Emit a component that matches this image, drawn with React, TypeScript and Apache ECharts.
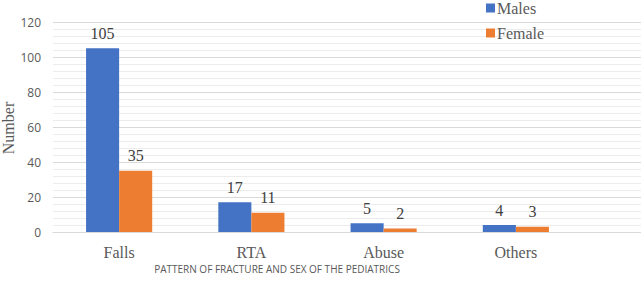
import React, { useEffect, useRef } from "react";
import * as echarts from "echarts";

// Fracture patterns by sex
const categories = ["Falls", "RTA", "Abuse", "Others"];
const males = [105, 17, 5, 4];
const female = [35, 11, 2, 3];
const yTicks = { min: 0, max: 120, interval: 20 };

const SERIF = "'Liberation Serif', 'Times New Roman', serif";
const SANS = "'Open Sans', 'Noto Sans', sans-serif";
const TEXT_GRAY = "#595959";

export default function App() {
  const ref = useRef<HTMLDivElement>(null);

  useEffect(() => {
    if (!ref.current) return;
    const chart = echarts.init(ref.current, null, { renderer: "svg" });
    const labelStyle = {
      show: true,
      position: "top" as const,
      distance: 7,
      fontFamily: SERIF,
      fontSize: 16,
      color: "#404040",
    };
    chart.setOption({
      animation: false,
      backgroundColor: "#ffffff",
      legend: {
        orient: "vertical",
        left: 486,
        top: 0,
        padding: [0, 0, 0, 0],
        itemWidth: 9,
        itemHeight: 9,
        itemGap: 9,
        icon: "rect",
        textStyle: { fontFamily: SERIF, fontSize: 16, color: TEXT_GRAY, padding: [0, 0, 0, -3] },
        data: ["Males", "Female"],
      },
      grid: [
        { left: 53, right: 59, top: 22, bottom: 49 },
        { left: 53, right: 0, top: 22, bottom: 49 },
      ],
      xAxis: [
        {
          type: "category",
          gridIndex: 0,
          data: categories,
          axisLine: { lineStyle: { color: "#d9d9d9" } },
          axisTick: { show: false },
          axisLabel: { fontFamily: SERIF, fontSize: 16, color: TEXT_GRAY, margin: 12 },
        },
        {
          type: "value",
          gridIndex: 1,
          show: false,
          splitLine: { show: false },
        },
      ],
      yAxis: [
        {
          type: "value",
          gridIndex: 0,
          min: yTicks.min,
          max: yTicks.max,
          interval: yTicks.interval,
          axisLine: { show: false },
          axisTick: { show: false },
          splitLine: { show: false },
          axisLabel: { fontFamily: SANS, fontSize: 12, color: TEXT_GRAY, margin: 12 },
        },
        {
          type: "value",
          gridIndex: 1,
          min: yTicks.min,
          max: yTicks.max,
          interval: yTicks.interval,
          axisLine: { show: false },
          axisTick: { show: false },
          axisLabel: { show: false },
          splitLine: { lineStyle: { color: "#d9d9d9", width: 1 } },
          minorSplitLine: { show: true, lineStyle: { color: "#ececec", width: 1 } },
          minorTick: { show: false, splitNumber: 5 },
        },
      ],
      graphic: [
        {
          type: "text",
          x: 8,
          y: 128,
          rotation: Math.PI / 2,
          style: {
            text: "Number",
            fontFamily: SERIF,
            fontSize: 16,
            fill: TEXT_GRAY,
            align: "center",
            verticalAlign: "middle",
          },
        },
        {
          type: "text",
          x: 277,
          y: 269,
          style: {
            text: "PATTERN OF FRACTURE AND SEX OF THE PEDIATRICS",
            fontFamily: SANS,
            fontSize: 10,
            fill: TEXT_GRAY,
            align: "center",
            verticalAlign: "middle",
          },
        },
      ],
      series: [
        {
          name: "Males",
          type: "bar",
          xAxisIndex: 0,
          yAxisIndex: 0,
          data: males,
          itemStyle: { color: "#4472C4" },
          barGap: "0%",
          barCategoryGap: "50%",
          label: labelStyle,
        },
        {
          name: "Female",
          type: "bar",
          xAxisIndex: 0,
          yAxisIndex: 0,
          data: female,
          itemStyle: { color: "#ED7D31" },
          barGap: "0%",
          barCategoryGap: "50%",
          label: labelStyle,
        },
      ],
    });
    return () => chart.dispose();
  }, []);

  return (
    <div
      ref={ref}
      style={{ position: "fixed", left: 0, top: 0, width: 641, height: 281 }}
    />
  );
}
